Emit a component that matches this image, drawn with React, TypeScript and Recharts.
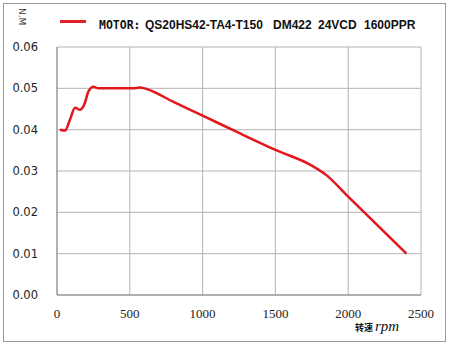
import React from 'react';
import { LineChart, Line, XAxis, YAxis, CartesianGrid, Label } from 'recharts';

const rpm = [20, 55, 89, 124, 158, 192, 215, 250, 284, 400, 520, 570, 610, 800, 1000, 1250, 1500, 1750, 1850, 2000, 2400];
const torque = [0.04, 0.0398, 0.0424, 0.0453, 0.0448, 0.0465, 0.0492, 0.0504, 0.05, 0.05, 0.05, 0.0502, 0.0499, 0.0467, 0.0434, 0.0392, 0.0351, 0.0313, 0.029, 0.0238, 0.01];
const xTicks = [0, 500, 1000, 1500, 2000, 2500];
const yTicks = [0, 0.01, 0.02, 0.03, 0.04, 0.05, 0.06];
const legendLabel = 'MOTOR:';
const legendParts = ['QS20HS42-TA4-T150', 'DM422', '24VCD', '1600PPR'];
const legendLefts = [145, 273, 318, 364];

const data = rpm.map((r, i) => ({ rpm: r, torque: torque[i] }));

const serif = '"Liberation Serif", "Times New Roman", serif';

const XTick = (props: any) => {
  const { x, y, payload } = props;
  return (
    <text x={x} y={y + 16} textAnchor="middle" dominantBaseline="central" fontFamily={serif} fontSize={13} fill="#222">
      {payload.value}
    </text>
  );
};

const YTick = (props: any) => {
  const { x, y, payload } = props;
  return (
    <text x={x - 17} y={y} textAnchor="end" dominantBaseline="central" fontFamily='"DejaVu Sans", sans-serif' fontSize={11.5} fill="#222">
      {Number(payload.value).toFixed(2)}
    </text>
  );
};

const legendFont: React.CSSProperties = { position: 'absolute', top: 18, fontWeight: 'bold', fontSize: 12, whiteSpace: 'pre', color: '#111', lineHeight: '14px' };

export default function App() {
  return (
    <div style={{ position: 'absolute', left: 0, top: 0, width: 450, height: 346, background: '#fff' }}>
      <div style={{ position: 'absolute', left: 3, top: 3, width: 441, height: 337, border: '1px solid #9a9a9a' }} />
      <div style={{ position: 'absolute', left: 60, top: 20, width: 26, height: 3, background: '#dd2228' }} />
      <span style={{ ...legendFont, left: 99, fontFamily: '"DejaVu Sans Mono", monospace', fontSize: 11.5 }}>{legendLabel}</span>
      {legendParts.map((p, i) => (
        <span key={p} style={{ ...legendFont, left: legendLefts[i], fontFamily: '"Liberation Sans", Arial, sans-serif' }}>{p}</span>
      ))}
      <LineChart
        width={450}
        height={346}
        data={data}
        margin={{ top: 47, right: 29, left: 7, bottom: 21 }}
      >
        <CartesianGrid stroke="#b4b4b4" strokeWidth={1} />
        <XAxis
          dataKey="rpm"
          type="number"
          domain={[0, 2500]}
          ticks={xTicks}
          height={30}
          axisLine={{ stroke: '#8a8a8a' }}
          tickLine={false}
          tickSize={0}
          tick={<XTick />}
        >
          <Label
            content={() => (
              <text x={355} y={331} fill="#111">
                <tspan fontFamily='"Noto Sans CJK SC"' fontSize={9} fontWeight="bold">转速</tspan>
                <tspan fontFamily={serif} fontStyle="italic" fontSize={15} dx={2}>rpm</tspan>
              </text>
            )}
          />
        </XAxis>
        <YAxis
          type="number"
          domain={[0, 0.06]}
          ticks={yTicks}
          width={50}
          axisLine={{ stroke: '#8a8a8a' }}
          tickLine={false}
          tickSize={0}
          tick={<YTick />}
        >
          <Label
            content={() => (
              <text x={19} y={8} transform="rotate(90 19 8)" fontFamily='"DejaVu Sans", sans-serif' fontSize={9} fill="#333">N.M</text>
            )}
          />
        </YAxis>
        <Line
          type="monotone"
          dataKey="torque"
          stroke="#e3161c"
          strokeWidth={2.5}
          dot={false}
          isAnimationActive={false}
        />
      </LineChart>
    </div>
  );
}
